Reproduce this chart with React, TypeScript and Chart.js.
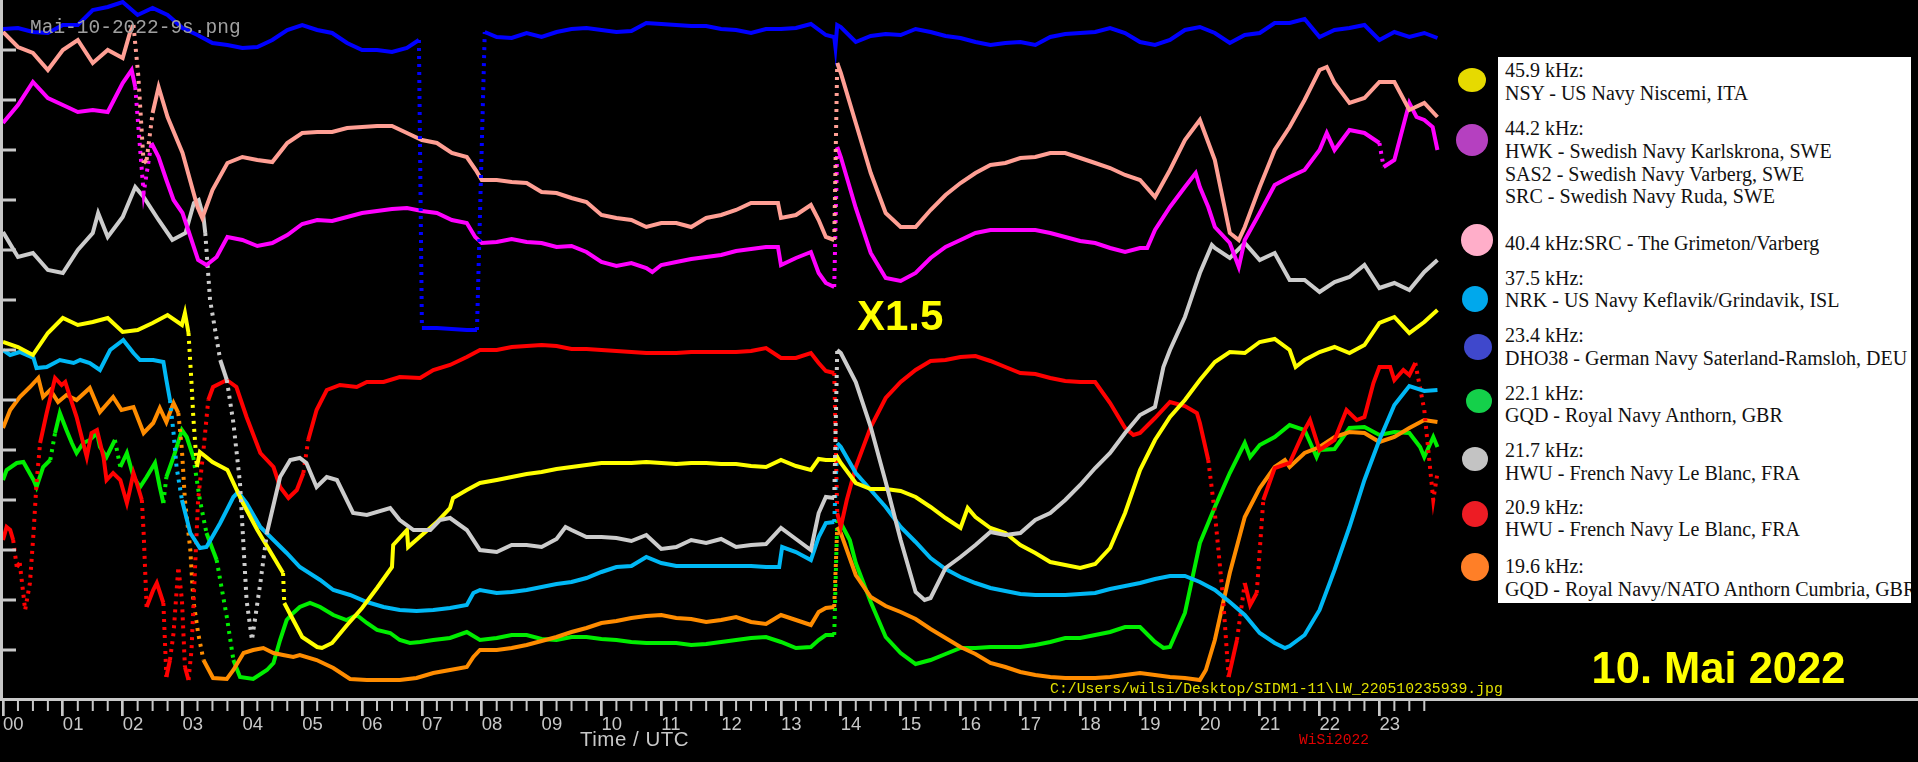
import React, { useEffect, useRef } from "react";
import { Chart, registerables } from "chart.js";

Chart.register(...registerables);

type Pt = [number, number];

// ---------- axis data ----------
const HOUR_TICKS = [0, 1, 2, 3, 4, 5, 6, 7, 8, 9, 10, 11, 12, 13, 14, 15, 16, 17, 18, 19, 20, 21, 22, 23];
const HOUR_LABELS = ["00", "01", "02", "03", "04", "05", "06", "07", "08", "09", "10", "11", "12", "13", "14", "15", "16", "17", "18", "19", "20", "21", "22", "23"];
const Y_TICKS = [5, 10, 15, 20, 25, 30, 35, 40, 45, 50, 55, 60, 65];

// ---------- series (time in hours UTC, relative signal level) ----------
const DHO38_234: Pt[] = [
  [0, 67.1], [0.25, 67.2], [0.5, 66.8], [0.75, 66.7], [1, 67.5], [1.25, 67.5], [1.5, 69.0], [1.75, 69.3], [2, 69.8], [2.25, 68.5], [2.5, 69.2], [2.75, 68.5],
  [3, 67.2], [3.25, 66.5], [3.5, 65.7], [3.75, 65.5], [4, 65.2], [4.25, 65.3], [4.5, 66.0], [4.75, 67.0], [5, 67.5], [5.25, 67.0], [5.5, 66.7], [5.75, 65.7],
  [6, 65.0], [6.25, 65.0], [6.5, 64.8], [6.75, 65.2], [6.95, 66.0], [7.0, 37.2], [7.25, 37.2], [7.5, 37.1], [7.75, 37.0], [7.92, 37.0],
  [8.05, 66.8], [8.25, 66.3], [8.5, 66.2], [8.75, 66.7], [9, 66.3], [9.25, 66.8], [9.5, 67.1], [9.75, 67.2], [10, 67.0], [10.25, 66.8], [10.5, 66.9], [10.75, 67.7],
  [11, 67.6], [11.25, 67.5], [11.5, 67.4], [11.75, 67.4], [12, 67.1], [12.25, 67.0], [12.5, 66.7], [12.75, 67.1], [13, 67.1], [13.25, 67.2], [13.5, 67.6],
  [13.75, 66.5], [13.89, 66.3], [13.91, 65.3], [13.94, 67.5], [14, 67.3], [14.25, 65.8], [14.5, 66.4], [14.75, 66.6], [15, 66.5], [15.25, 67.1], [15.5, 66.8],
  [15.75, 66.4], [16, 66.2], [16.25, 65.8], [16.5, 65.5], [16.75, 65.7], [17, 65.8], [17.25, 65.5], [17.5, 66.3], [17.75, 66.6], [18, 66.7], [18.25, 66.8],
  [18.5, 67.2], [18.75, 66.7], [19, 65.8], [19.25, 65.5], [19.5, 66.0], [19.75, 67.0], [20, 67.3], [20.25, 66.7], [20.5, 65.7], [20.75, 66.5], [21, 66.7],
  [21.25, 67.7], [21.5, 67.7], [21.75, 68.1], [22, 66.3], [22.25, 67.0], [22.5, 67.2], [22.75, 67.5], [23, 66.0], [23.25, 66.8], [23.5, 66.3], [23.75, 66.7], [23.97, 66.2],
];

const SRC_404: Pt[] = [
  [0, 66.8], [0.25, 65.3], [0.5, 64.7], [0.75, 63.0], [1, 65.0], [1.25, 66.0], [1.5, 63.7], [1.75, 65.0], [2, 64.2], [2.12, 66.7], [2.18, 67.5], [2.26, 62.5],
  [2.35, 53.7], [2.4, 54.0], [2.5, 58.7], [2.6, 61.3], [2.75, 58.3], [3, 54.7], [3.25, 49.3], [3.33, 48.2], [3.5, 51.0], [3.75, 53.7], [4, 54.3], [4.25, 54.0],
  [4.5, 53.8], [4.75, 55.7], [5, 56.7], [5.25, 56.8], [5.5, 56.8], [5.75, 57.2], [6, 57.3], [6.25, 57.4], [6.5, 57.4], [6.75, 56.7], [7, 56.0], [7.25, 55.7],
  [7.5, 54.7], [7.75, 54.3], [7.9, 53.0], [8, 52.0], [8.25, 52.0], [8.5, 51.8], [8.75, 51.7], [9, 50.8], [9.25, 50.7], [9.5, 50.2], [9.75, 49.8], [10, 48.5],
  [10.25, 48.2], [10.5, 48.0], [10.75, 47.3], [11, 47.7], [11.25, 47.7], [11.5, 47.3], [11.75, 48.2], [12, 48.5], [12.25, 49.0], [12.5, 49.7], [12.75, 49.7],
  [12.95, 49.7], [13, 48.2], [13.25, 48.5], [13.5, 49.5], [13.63, 48.0], [13.75, 46.3], [13.89, 46.0], [13.94, 63.7], [14, 62.7], [14.25, 57.7], [14.5, 52.7],
  [14.75, 48.7], [15, 47.3], [15.25, 47.3], [15.5, 49.0], [15.75, 50.5], [16, 51.7], [16.25, 52.7], [16.5, 53.5], [16.75, 53.7], [17, 54.2], [17.25, 54.3],
  [17.5, 54.7], [17.75, 54.7], [18, 54.2], [18.25, 53.7], [18.5, 53.2], [18.75, 52.5], [19, 52.0], [19.25, 50.3], [19.5, 53.0], [19.75, 56.0], [20, 58.0],
  [20.25, 54.0], [20.5, 46.7], [20.65, 46.0], [20.75, 47.3], [21, 51.3], [21.25, 55.0], [21.5, 57.3], [21.75, 60.0], [22, 63.0], [22.12, 63.3], [22.25, 61.7],
  [22.5, 59.7], [22.75, 60.2], [23, 61.8], [23.25, 61.8], [23.5, 59.0], [23.75, 59.7], [23.97, 58.3],
];

const HWK_442: Pt[] = [
  [0, 57.7], [0.25, 59.5], [0.5, 61.8], [0.75, 60.2], [1, 59.5], [1.25, 58.8], [1.5, 59.0], [1.75, 58.8], [2, 61.7], [2.15, 63.0], [2.21, 61.3], [2.27, 56.7],
  [2.35, 50.7], [2.48, 55.7], [2.6, 54.3], [2.73, 52.0], [2.85, 50.0], [3, 48.7], [3.15, 46.0], [3.26, 44.0], [3.4, 43.5], [3.57, 44.3], [3.75, 46.3], [4, 46.0],
  [4.25, 45.4], [4.5, 45.7], [4.75, 46.5], [5, 47.6], [5.25, 48.0], [5.5, 47.9], [5.75, 48.3], [6, 48.7], [6.25, 48.9], [6.5, 49.1], [6.75, 49.2], [7, 48.9],
  [7.25, 48.7], [7.5, 48.0], [7.75, 47.7], [7.89, 46.3], [8, 45.7], [8.25, 45.8], [8.5, 46.1], [8.75, 45.8], [9, 45.7], [9.25, 45.3], [9.5, 45.4], [9.75, 44.8],
  [10, 43.8], [10.25, 43.4], [10.5, 43.7], [10.75, 43.2], [10.85, 42.8], [11, 43.5], [11.25, 43.8], [11.5, 44.1], [11.75, 44.3], [12, 44.5], [12.25, 44.9],
  [12.5, 45.1], [12.75, 45.3], [12.95, 45.3], [13, 43.5], [13.25, 44.2], [13.5, 44.8], [13.63, 42.7], [13.75, 41.7], [13.89, 41.3], [13.94, 55.3], [14, 54.3],
  [14.25, 49.2], [14.5, 44.7], [14.75, 42.2], [15, 41.9], [15.25, 42.7], [15.5, 44.2], [15.75, 45.3], [16, 46.0], [16.25, 46.7], [16.5, 47.0], [16.75, 47.0],
  [17, 47.0], [17.25, 47.0], [17.5, 46.7], [17.75, 46.3], [18, 45.9], [18.25, 45.7], [18.5, 45.2], [18.75, 44.8], [19, 45.2], [19.12, 45.2], [19.25, 47.0],
  [19.5, 49.3], [19.75, 51.3], [19.93, 52.7], [20, 51.3], [20.14, 49.3], [20.25, 47.3], [20.5, 45.7], [20.65, 43.3], [20.75, 46.0], [21, 48.7], [21.25, 51.5],
  [21.5, 52.3], [21.75, 53.0], [22, 55.0], [22.12, 56.7], [22.25, 55.0], [22.5, 57.0], [22.75, 56.7], [23, 55.7], [23.07, 53.3], [23.25, 54.0], [23.5, 59.7],
  [23.62, 58.3], [23.75, 58.0], [23.89, 57.3], [23.97, 55.0],
];

const HWU_217: Pt[] = [
  [0, 46.8], [0.25, 44.3], [0.5, 44.7], [0.75, 43.0], [1, 42.7], [1.25, 45.0], [1.5, 46.7], [1.59, 48.7], [1.75, 46.3], [2, 48.3], [2.07, 49.3], [2.21, 51.3],
  [2.35, 50.3], [2.6, 48.0], [2.83, 46.0], [3.05, 46.7], [3.19, 49.7], [3.27, 50.0], [3.35, 48.3], [3.38, 46.7], [3.46, 40.0], [3.63, 34.0], [3.74, 32.0],
  [3.85, 27.7], [3.96, 21.7], [4.07, 10.0], [4.16, 6.0], [4.3, 11.7], [4.41, 16.7], [4.63, 22.3], [4.8, 24.0], [4.96, 24.2], [5.07, 23.7], [5.24, 21.3],
  [5.41, 22.3], [5.58, 22.0], [5.85, 18.7], [6.08, 18.5], [6.47, 19.2], [6.63, 18.0], [6.86, 17.0], [7.14, 17.0], [7.3, 18.0], [7.47, 18.2], [7.75, 17.0],
  [7.97, 15.0], [8.25, 14.8], [8.5, 15.5], [8.75, 15.5], [9, 15.3], [9.25, 16.1], [9.4, 17.3], [9.5, 17.0], [9.75, 16.3], [10, 16.3], [10.25, 16.2], [10.5, 15.9],
  [10.75, 16.5], [11, 15.1], [11.25, 15.3], [11.5, 16.0], [11.75, 15.7], [12, 16.1], [12.25, 15.3], [12.5, 15.5], [12.75, 15.6], [13, 17.2], [13.25, 16.1],
  [13.5, 15.0], [13.63, 18.7], [13.75, 20.3], [13.89, 20.2], [13.94, 35.0], [14, 34.7], [14.25, 31.8], [14.5, 27.3], [14.75, 21.8], [15, 16.0], [15.25, 10.8],
  [15.4, 10.0], [15.5, 10.2], [15.75, 13.2], [16, 14.3], [16.25, 15.5], [16.5, 16.8], [16.75, 16.5], [17, 16.7], [17.25, 18.0], [17.5, 18.7], [17.75, 20.0],
  [18, 21.5], [18.25, 23.2], [18.5, 24.7], [18.75, 26.7], [19, 28.5], [19.25, 29.3], [19.39, 33.3], [19.5, 35.0], [19.75, 38.3], [20, 42.7], [20.2, 45.5],
  [20.25, 45.2], [20.5, 44.2], [20.75, 45.7], [21, 44.0], [21.25, 44.7], [21.5, 42.0], [21.75, 42.0], [22, 40.8], [22.25, 41.8], [22.5, 42.3], [22.75, 43.5],
  [23, 41.2], [23.25, 41.7], [23.5, 41.0], [23.75, 42.8], [23.97, 44.0],
];

const NSY_459: Pt[] = [
  [0, 35.8], [0.25, 35.3], [0.5, 34.5], [0.75, 36.7], [1, 38.2], [1.25, 37.5], [1.5, 37.8], [1.75, 38.2], [2, 36.8], [2.25, 37.0], [2.5, 37.7], [2.75, 38.5],
  [2.99, 37.5], [3.04, 38.7], [3.1, 36.7], [3.15, 31.7], [3.18, 28.3], [3.24, 23.3], [3.29, 24.8], [3.5, 23.8], [3.75, 23.0], [4, 19.8], [4.25, 17.0], [4.5, 14.5],
  [4.68, 12.7], [4.7, 9.7], [5, 6.3], [5.25, 5.3], [5.33, 5.2], [5.5, 5.7], [5.75, 7.5], [6, 9.2], [6.25, 11.2], [6.5, 13.3], [6.52, 15.5], [6.75, 17.0],
  [6.77, 15.3], [7, 16.5], [7.25, 17.8], [7.47, 19.2], [7.52, 20.2], [7.75, 21.0], [7.97, 21.7], [8.25, 22.0], [8.5, 22.3], [8.75, 22.6], [9, 22.8], [9.25, 23.1],
  [9.5, 23.3], [9.75, 23.5], [10, 23.7], [10.25, 23.7], [10.5, 23.7], [10.75, 23.8], [11, 23.7], [11.25, 23.6], [11.5, 23.7], [11.75, 23.7], [12, 23.6],
  [12.25, 23.6], [12.5, 23.4], [12.75, 23.3], [13, 24.0], [13.25, 23.4], [13.5, 23.0], [13.63, 24.1], [13.75, 24.0], [13.89, 24.0], [13.94, 24.3], [14, 23.7],
  [14.25, 21.7], [14.5, 21.1], [14.75, 21.1], [15, 20.9], [15.25, 20.3], [15.5, 19.3], [15.75, 18.2], [16, 17.2], [16.12, 19.2], [16.25, 18.3], [16.5, 17.2],
  [16.75, 16.7], [17, 15.5], [17.25, 14.7], [17.5, 13.8], [17.75, 13.5], [18, 13.2], [18.25, 13.6], [18.5, 15.2], [18.75, 18.7], [19, 23.0], [19.25, 26.0],
  [19.5, 28.3], [19.75, 30.0], [20, 32.0], [20.25, 33.8], [20.5, 34.8], [20.75, 34.7], [21, 35.8], [21.25, 36.1], [21.5, 35.0], [21.6, 33.3], [21.75, 34.0],
  [22, 34.8], [22.25, 35.3], [22.5, 34.7], [22.75, 35.5], [23, 37.7], [23.25, 38.3], [23.5, 36.7], [23.75, 37.8], [23.97, 39.0],
];

const NRK_375: Pt[] = [
  [0, 35.0], [0.12, 34.5], [0.28, 34.8], [0.51, 34.2], [0.56, 33.2], [0.73, 33.3], [0.95, 34.0], [1.18, 33.7], [1.29, 34.0], [1.45, 33.7], [1.62, 33.0],
  [1.79, 35.0], [2.01, 36.0], [2.18, 34.7], [2.29, 34.0], [2.51, 34.0], [2.68, 33.8], [2.73, 32.0], [2.79, 30.0], [2.85, 26.7], [2.9, 23.3], [2.99, 20.0],
  [3.13, 16.7], [3.29, 15.2], [3.4, 15.3], [3.63, 17.7], [3.85, 20.3], [3.93, 20.8], [4.07, 19.7], [4.3, 17.3], [4.52, 16.0], [4.74, 14.7], [4.96, 13.3],
  [5.3, 12.0], [5.52, 11.0], [5.8, 10.5], [6.08, 9.8], [6.36, 9.3], [6.63, 9.0], [6.91, 8.9], [7.19, 9.0], [7.47, 9.2], [7.75, 9.5], [7.86, 10.7], [7.97, 11.0],
  [8.25, 10.7], [8.5, 10.8], [8.75, 11.0], [9, 11.3], [9.25, 11.6], [9.5, 11.8], [9.75, 12.2], [10, 12.8], [10.25, 13.3], [10.5, 13.4], [10.75, 14.3], [11, 13.7],
  [11.25, 13.4], [11.5, 13.4], [11.75, 13.4], [12, 13.4], [12.25, 13.4], [12.5, 13.4], [12.75, 13.3], [12.97, 13.3], [13.02, 15.3], [13.25, 14.8], [13.5, 14.0],
  [13.63, 16.3], [13.75, 17.7], [13.89, 17.8], [13.94, 25.7], [14, 25.3], [14.25, 22.7], [14.5, 21.0], [14.75, 19.3], [15, 17.3], [15.25, 15.8], [15.5, 14.2],
  [15.75, 13.1], [16, 12.3], [16.25, 11.7], [16.5, 11.2], [16.75, 10.9], [17, 10.6], [17.25, 10.5], [17.5, 10.5], [17.75, 10.5], [18, 10.6], [18.25, 10.7],
  [18.5, 11.1], [18.75, 11.4], [19, 11.7], [19.25, 12.1], [19.5, 12.4], [19.75, 12.4], [20, 11.8], [20.25, 11.0], [20.5, 9.8], [20.75, 8.5], [21, 6.7],
  [21.25, 5.7], [21.42, 5.2], [21.5, 5.4], [21.75, 6.5], [22, 9.0], [22.25, 13.0], [22.5, 17.3], [22.75, 22.0], [23, 26.0], [23.25, 29.5], [23.5, 31.4],
  [23.75, 30.9], [23.97, 31.0],
];

const HWU_209: Pt[] = [
  [0, 16.0], [0.06, 17.3], [0.12, 17.0], [0.17, 16.0], [0.23, 13.3], [0.28, 13.7], [0.37, 9.0], [0.45, 11.7], [0.51, 16.7], [0.56, 21.7], [0.62, 25.7],
  [0.73, 28.7], [0.87, 32.2], [0.98, 31.5], [1.04, 31.8], [1.12, 30.3], [1.23, 28.3], [1.34, 25.7], [1.4, 24.3], [1.48, 26.7], [1.57, 27.0], [1.68, 24.3],
  [1.73, 22.0], [1.84, 22.7], [1.96, 22.0], [2.07, 19.7], [2.12, 21.0], [2.18, 22.7], [2.23, 21.8], [2.32, 20.0], [2.35, 16.7], [2.4, 9.3], [2.51, 11.0],
  [2.57, 11.7], [2.68, 9.7], [2.73, 2.3], [2.79, 4.0], [2.85, 6.7], [2.93, 13.3], [2.99, 10.0], [3.04, 3.3], [3.1, 2.0], [3.15, 5.0], [3.21, 13.3], [3.26, 20.0],
  [3.35, 25.0], [3.43, 30.0], [3.51, 31.3], [3.74, 32.0], [3.9, 31.3], [4.07, 28.3], [4.3, 24.7], [4.52, 23.3], [4.63, 21.3], [4.77, 20.2], [4.91, 21.0],
  [5.02, 22.7], [5.1, 26.0], [5.24, 29.0], [5.41, 31.0], [5.63, 31.5], [5.91, 31.3], [6.08, 31.8], [6.36, 31.8], [6.63, 32.3], [6.97, 32.2], [7.19, 33.0],
  [7.47, 33.5], [7.75, 34.3], [7.97, 35.0], [8.25, 35.0], [8.5, 35.3], [8.75, 35.4], [9, 35.5], [9.25, 35.4], [9.5, 35.1], [9.75, 35.1], [10, 35.0], [10.25, 34.9],
  [10.5, 34.8], [10.75, 34.7], [11, 34.7], [11.25, 34.7], [11.5, 34.8], [11.75, 34.8], [12, 34.8], [12.25, 34.8], [12.5, 34.9], [12.75, 35.2], [13, 34.2],
  [13.25, 34.2], [13.5, 34.7], [13.63, 33.7], [13.75, 32.9], [13.89, 32.7], [13.94, 18.7], [14, 17.3], [14.1, 20.0], [14.25, 23.3], [14.5, 27.3], [14.75, 30.2],
  [15, 31.8], [15.25, 33.0], [15.5, 33.9], [15.75, 34.0], [16, 34.3], [16.25, 34.4], [16.5, 33.9], [16.75, 33.3], [17, 32.7], [17.25, 32.6], [17.5, 32.2],
  [17.75, 31.9], [18, 31.8], [18.25, 31.8], [18.5, 29.7], [18.75, 27.2], [18.89, 26.5], [19, 26.7], [19.25, 28.2], [19.5, 29.8], [19.75, 29.4], [19.95, 28.7],
  [20, 27.7], [20.14, 24.0], [20.25, 18.7], [20.39, 10.0], [20.48, 2.3], [20.62, 6.0], [20.75, 11.7], [20.84, 9.5], [20.95, 10.7], [21.06, 20.0], [21.25, 23.2],
  [21.5, 23.7], [21.75, 27.0], [21.84, 28.0], [22, 25.0], [22.25, 26.0], [22.45, 29.0], [22.62, 28.0], [22.75, 28.3], [22.9, 31.7], [23, 33.3], [23.18, 33.3],
  [23.25, 32.0], [23.4, 33.0], [23.5, 32.5], [23.6, 33.7], [23.75, 29.0], [23.9, 20.0], [23.97, 22.7],
];

const GQD_196: Pt[] = [
  [0, 27.2], [0.12, 29.0], [0.28, 30.3], [0.45, 31.3], [0.59, 32.2], [0.67, 30.3], [0.79, 31.0], [0.92, 29.8], [1.06, 30.5], [1.23, 30.0], [1.45, 31.2],
  [1.62, 28.8], [1.84, 30.3], [1.98, 29.0], [2.18, 29.3], [2.35, 26.7], [2.51, 27.7], [2.62, 29.2], [2.73, 27.8], [2.85, 29.7], [2.93, 28.7], [2.99, 25.0],
  [3.04, 20.0], [3.13, 15.0], [3.18, 10.0], [3.26, 6.7], [3.35, 4.0], [3.51, 2.2], [3.74, 2.1], [3.85, 3.0], [4.02, 4.7], [4.18, 5.0], [4.35, 5.2], [4.52, 4.7],
  [4.68, 4.5], [4.85, 4.3], [4.96, 4.5], [5.24, 4.0], [5.52, 3.2], [5.8, 2.1], [6.08, 2.0], [6.63, 2.0], [6.91, 2.2], [7.19, 2.7], [7.47, 3.0], [7.75, 3.3],
  [7.86, 4.3], [7.97, 5.0], [8.25, 5.0], [8.5, 5.2], [8.75, 5.5], [9, 5.9], [9.25, 6.3], [9.5, 6.8], [9.75, 7.2], [10, 7.7], [10.25, 7.9], [10.5, 8.2],
  [10.75, 8.4], [11, 8.5], [11.25, 8.2], [11.5, 8.1], [11.75, 7.8], [12, 8.0], [12.25, 8.3], [12.5, 7.8], [12.75, 7.6], [13, 8.5], [13.25, 8.0], [13.5, 7.5],
  [13.63, 8.8], [13.75, 9.2], [13.89, 9.3], [13.94, 17.3], [14, 16.7], [14.25, 12.5], [14.5, 10.3], [14.75, 9.4], [15, 8.8], [15.25, 8.1], [15.5, 7.1],
  [15.75, 6.2], [16, 5.3], [16.25, 4.6], [16.5, 3.7], [16.75, 3.3], [17, 2.8], [17.25, 2.5], [17.5, 2.3], [17.75, 2.2], [18, 2.2], [18.25, 2.2], [18.5, 2.3],
  [18.75, 2.5], [19, 2.7], [19.25, 2.5], [19.5, 2.3], [19.75, 2.2], [20, 2.0], [20.1, 3.0], [20.25, 6.0], [20.5, 12.7], [20.75, 18.3], [21, 21.2], [21.25, 23.3],
  [21.42, 24.0], [21.5, 23.3], [21.75, 24.7], [22, 25.3], [22.25, 26.3], [22.5, 26.8], [22.75, 26.7], [23, 25.8], [23.25, 26.3], [23.5, 27.2], [23.75, 28.0],
  [23.97, 27.8],
];

const GQD_221: Pt[] = [
  [0, 22.0], [0.06, 23.0], [0.23, 23.7], [0.34, 23.8], [0.51, 22.0], [0.56, 21.3], [0.67, 23.3], [0.79, 24.0], [0.87, 26.7], [0.95, 28.7], [1.06, 27.0],
  [1.15, 25.7], [1.23, 24.7], [1.34, 25.7], [1.45, 26.0], [1.57, 26.7], [1.62, 25.3], [1.73, 24.3], [1.87, 26.0], [1.96, 23.3], [2.07, 24.7], [2.18, 22.3],
  [2.29, 21.3], [2.4, 22.3], [2.54, 23.7], [2.62, 21.3], [2.68, 19.7], [2.73, 22.3], [2.85, 24.3], [2.99, 27.0], [3.07, 26.3], [3.18, 24.3], [3.29, 20.0],
  [3.4, 16.7], [3.57, 14.0], [3.74, 8.3], [3.85, 4.0], [3.96, 2.3], [4.18, 2.1], [4.41, 3.0], [4.52, 3.7], [4.63, 6.0], [4.74, 8.0], [4.85, 8.7], [4.96, 9.3],
  [5.13, 9.7], [5.3, 9.3], [5.52, 8.5], [5.74, 8.0], [5.91, 8.5], [6.08, 7.7], [6.25, 7.0], [6.47, 6.7], [6.63, 6.0], [6.8, 5.7], [6.97, 5.8], [7.19, 6.0],
  [7.47, 6.2], [7.75, 6.8], [7.97, 6.0], [8.25, 6.2], [8.5, 6.5], [8.75, 6.5], [9, 6.1], [9.25, 6.0], [9.5, 6.3], [9.75, 6.3], [10, 6.1], [10.25, 6.0],
  [10.5, 5.8], [10.75, 5.7], [11, 5.7], [11.25, 5.7], [11.5, 5.5], [11.75, 5.6], [12, 5.8], [12.25, 6.0], [12.5, 6.2], [12.75, 6.3], [13, 5.8], [13.25, 5.2],
  [13.5, 5.3], [13.63, 6.0], [13.75, 6.5], [13.89, 6.5], [13.94, 18.0], [14, 17.7], [14.15, 16.0], [14.25, 13.7], [14.5, 9.8], [14.75, 6.3], [15, 4.7],
  [15.25, 3.6], [15.5, 4.0], [15.75, 4.6], [16, 5.2], [16.25, 5.2], [16.5, 5.3], [16.75, 5.3], [17, 5.3], [17.25, 5.5], [17.5, 5.8], [17.75, 6.2], [18, 6.2],
  [18.25, 6.5], [18.5, 6.8], [18.75, 7.3], [19, 7.3], [19.25, 5.8], [19.39, 5.2], [19.5, 5.3], [19.75, 8.7], [20, 15.7], [20.25, 19.3], [20.5, 22.7],
  [20.75, 25.7], [20.84, 24.3], [21, 25.5], [21.25, 26.3], [21.5, 27.5], [21.75, 27.0], [21.95, 24.3], [22, 25.0], [22.25, 25.1], [22.5, 27.2], [22.75, 27.3],
  [23, 26.5], [23.25, 26.8], [23.5, 26.7], [23.68, 25.3], [23.75, 24.3], [23.9, 26.3], [23.97, 25.3],
];

// ---------- legend content ----------
const LEGEND_FREQS = ["45.9 kHz", "44.2 kHz", "40.4 kHz", "37.5 kHz", "23.4 kHz", "22.1 kHz", "21.7 kHz", "20.9 kHz", "19.6 kHz"];
const LEGEND_TEXT: string[][] = [
  ["45.9 kHz:", "NSY - US Navy Niscemi, ITA"],
  ["44.2 kHz:", "HWK - Swedish Navy Karlskrona, SWE", "SAS2 - Swedish Navy Varberg, SWE", "SRC - Swedish Navy Ruda, SWE"],
  ["40.4 kHz:SRC - The Grimeton/Varberg"],
  ["37.5 kHz:", "NRK - US Navy Keflavik/Grindavik, ISL"],
  ["23.4 kHz:", "DHO38 - German Navy Saterland-Ramsloh, DEU"],
  ["22.1 kHz:", "GQD - Royal Navy Anthorn, GBR"],
  ["21.7 kHz:", "HWU - French Navy Le Blanc, FRA"],
  ["20.9 kHz:", "HWU - French Navy Le Blanc, FRA"],
  ["19.6 kHz:", "GQD - Royal Navy/NATO Anthorn Cumbria, GBR"],
];

// ---------- styles ----------
const AXIS_COLOR = "#c8c8c8";
const SERIES_STYLE = [
  { name: "23.4 kHz DHO38", data: DHO38_234, color: "#0000ff" },
  { name: "40.4 kHz SRC", data: SRC_404, color: "#ff9f94" },
  { name: "44.2 kHz HWK", data: HWK_442, color: "#ff00ff" },
  { name: "21.7 kHz HWU", data: HWU_217, color: "#cccccc" },
  { name: "45.9 kHz NSY", data: NSY_459, color: "#ffff00" },
  { name: "37.5 kHz NRK", data: NRK_375, color: "#00b8f5" },
  { name: "20.9 kHz HWU", data: HWU_209, color: "#ff0000" },
  { name: "19.6 kHz GQD", data: GQD_196, color: "#ff8c00" },
  { name: "22.1 kHz GQD", data: GQD_221, color: "#00ee00" },
];

const LEGEND_LAYOUT = [
  { color: "#e6da00", cx: 1472, cy: 80, rx: 14, ry: 12, top: 2 },
  { color: "#b540c0", cx: 1472, cy: 140, rx: 16, ry: 16, top: 60 },
  { color: "#ffaec9", cx: 1477, cy: 240, rx: 16, ry: 16, top: 174.5 },
  { color: "#00a8ec", cx: 1475, cy: 299, rx: 13, ry: 13, top: 209.5 },
  { color: "#3f48cc", cx: 1478, cy: 347, rx: 14, ry: 13, top: 267 },
  { color: "#14d04a", cx: 1479, cy: 401, rx: 13, ry: 12, top: 324.5 },
  { color: "#c3c3c3", cx: 1475, cy: 459, rx: 13, ry: 12, top: 382 },
  { color: "#ed1c24", cx: 1475, cy: 514, rx: 13, ry: 13, top: 438.5 },
  { color: "#ff7f27", cx: 1475, cy: 567, rx: 14, ry: 14, top: 498 },
];

// steep, long jumps in the recording show up as sparse markers: draw them dotted
const steepDash = (ctx: any) => {
  const dx = Math.abs(ctx.p1.x - ctx.p0.x);
  const dy = Math.abs(ctx.p1.y - ctx.p0.y);
  return dy > 24 && dy > 5 * Math.max(dx, 0.5) ? [3, 5] : undefined;
};

const decorPlugin = {
  id: "decor",
  afterDraw(chart: any) {
    const { ctx, chartArea } = chart;
    const xs = chart.scales.x;
    const ys = chart.scales.y;
    ctx.save();
    ctx.strokeStyle = AXIS_COLOR;
    ctx.lineCap = "butt";
    // bottom axis line across the whole frame
    ctx.lineWidth = 3;
    ctx.beginPath();
    ctx.moveTo(0, chartArea.bottom - 0.5);
    ctx.lineTo(chart.width, chartArea.bottom - 0.5);
    ctx.stroke();
    // left axis line
    ctx.beginPath();
    ctx.moveTo(1.5, 0);
    ctx.lineTo(1.5, chartArea.bottom);
    ctx.stroke();
    // y ticks (inward)
    ctx.beginPath();
    for (const v of Y_TICKS) {
      const py = ys.getPixelForValue(v);
      ctx.moveTo(0, py);
      ctx.lineTo(16, py);
    }
    ctx.stroke();
    // minor x ticks every quarter hour
    ctx.lineWidth = 2;
    ctx.beginPath();
    for (const h of HOUR_TICKS) {
      for (const f of [0.25, 0.5, 0.75]) {
        const px = xs.getPixelForValue(h + f);
        ctx.moveTo(px, chartArea.bottom);
        ctx.lineTo(px, chartArea.bottom + 11);
      }
    }
    ctx.stroke();
    ctx.restore();
  },
};

function ChartCanvas() {
  const ref = useRef<HTMLCanvasElement | null>(null);
  useEffect(() => {
    if (!ref.current) return;
    const chart = new Chart(ref.current, {
      type: "line",
      data: {
        datasets: SERIES_STYLE.map((s) => ({
          label: s.name,
          data: s.data.map(([x, y]) => ({ x, y })),
          borderColor: s.color,
          backgroundColor: s.color,
          borderWidth: 4,
          pointRadius: 0,
          tension: 0,
          fill: false,
          segment: { borderDash: steepDash },
        })),
      },
      options: {
        animation: false,
        responsive: false,
        devicePixelRatio: 1,
        events: [],
        layout: { padding: { left: 3, right: 0, top: 0, bottom: 0 } },
        plugins: { legend: { display: false }, tooltip: { enabled: false }, title: { display: false } },
        scales: {
          x: {
            type: "linear",
            min: 0,
            max: 32,
            afterBuildTicks: (scale: any) => {
              scale.ticks = HOUR_TICKS.map((v) => ({ value: v }));
            },
            afterFit: (scale: any) => {
              scale.height = 62;
              scale.paddingLeft = 0;
              scale.paddingRight = 0;
            },
            border: { display: false },
            grid: { drawOnChartArea: false, drawTicks: true, tickLength: 16, color: AXIS_COLOR, lineWidth: 2.7 },
            ticks: {
              autoSkip: false,
              maxRotation: 0,
              align: "start",
              padding: 0,
              color: AXIS_COLOR,
              font: { family: '"Liberation Sans", Arial, sans-serif', size: 18.5, lineHeight: 1 },
              callback: (v: any) => HOUR_LABELS[Math.round(Number(v))] ?? "",
            },
          },
          y: { type: "linear", min: 0, max: 70, display: false },
        },
      },
      plugins: [decorPlugin],
    } as any);
    return () => chart.destroy();
  }, []);
  return <canvas ref={ref} width={1918} height={762} style={{ position: "absolute", left: 0, top: 0, width: 1918, height: 762 }} />;
}

const abs = (left: number, top: number, extra: React.CSSProperties): React.CSSProperties => ({
  position: "absolute",
  left,
  top,
  whiteSpace: "nowrap",
  lineHeight: 1,
  margin: 0,
  ...extra,
});

export default function App() {
  return (
    <div style={{ position: "fixed", left: 0, top: 0, width: 1918, height: 762, background: "#000", overflow: "hidden" }}>
      <ChartCanvas />
      <div style={abs(30, 16.8, { font: '19.5px "Liberation Mono", monospace', color: "#a0a0a0" })}>Mai-10-2022-9s.png</div>
      <div style={abs(857, 292.4, { font: 'bold 42px "Liberation Sans", Arial, sans-serif', color: "#ffff00" })}>X1.5</div>
      <div style={abs(1050, 681.2, { font: '14.8px "Liberation Mono", monospace', color: "#e0e000" })}>C:/Users/wilsi/Desktop/SIDM1-11\LW_220510235939.jpg</div>
      <div style={abs(1591.5, 644.2, { font: 'bold 43.5px "Liberation Sans", Arial, sans-serif', color: "#ffff00" })}>10. Mai 2022</div>
      <div style={abs(580, 726.6, { font: '20.5px "Liberation Sans", Arial, sans-serif', color: AXIS_COLOR, letterSpacing: "0.5px" })}>Time / UTC</div>
      <div style={abs(1299, 732, { font: '14.6px "Liberation Mono", monospace', color: "#e00000" })}>WiSi2022</div>

      {LEGEND_LAYOUT.map((b, i) => (
        <div
          key={"dot" + i}
          title={LEGEND_FREQS[i]}
          style={{ position: "absolute", left: b.cx - b.rx, top: b.cy - b.ry, width: b.rx * 2, height: b.ry * 2, borderRadius: "50%", background: b.color }}
        />
      ))}
      <div style={{ position: "absolute", left: 1498, top: 57, width: 413, height: 546, background: "#fff", overflow: "hidden" }}>
        {LEGEND_TEXT.map((lines, i) => (
          <div
            key={"lg" + i}
            style={{ position: "absolute", left: 7, top: LEGEND_LAYOUT[i].top, font: '20px "Liberation Serif", "Times New Roman", serif', lineHeight: "22.8px", color: "#111", whiteSpace: "nowrap" }}
          >
            {lines.map((l, j) => (
              <div key={j}>{l}</div>
            ))}
          </div>
        ))}
      </div>
    </div>
  );
}
